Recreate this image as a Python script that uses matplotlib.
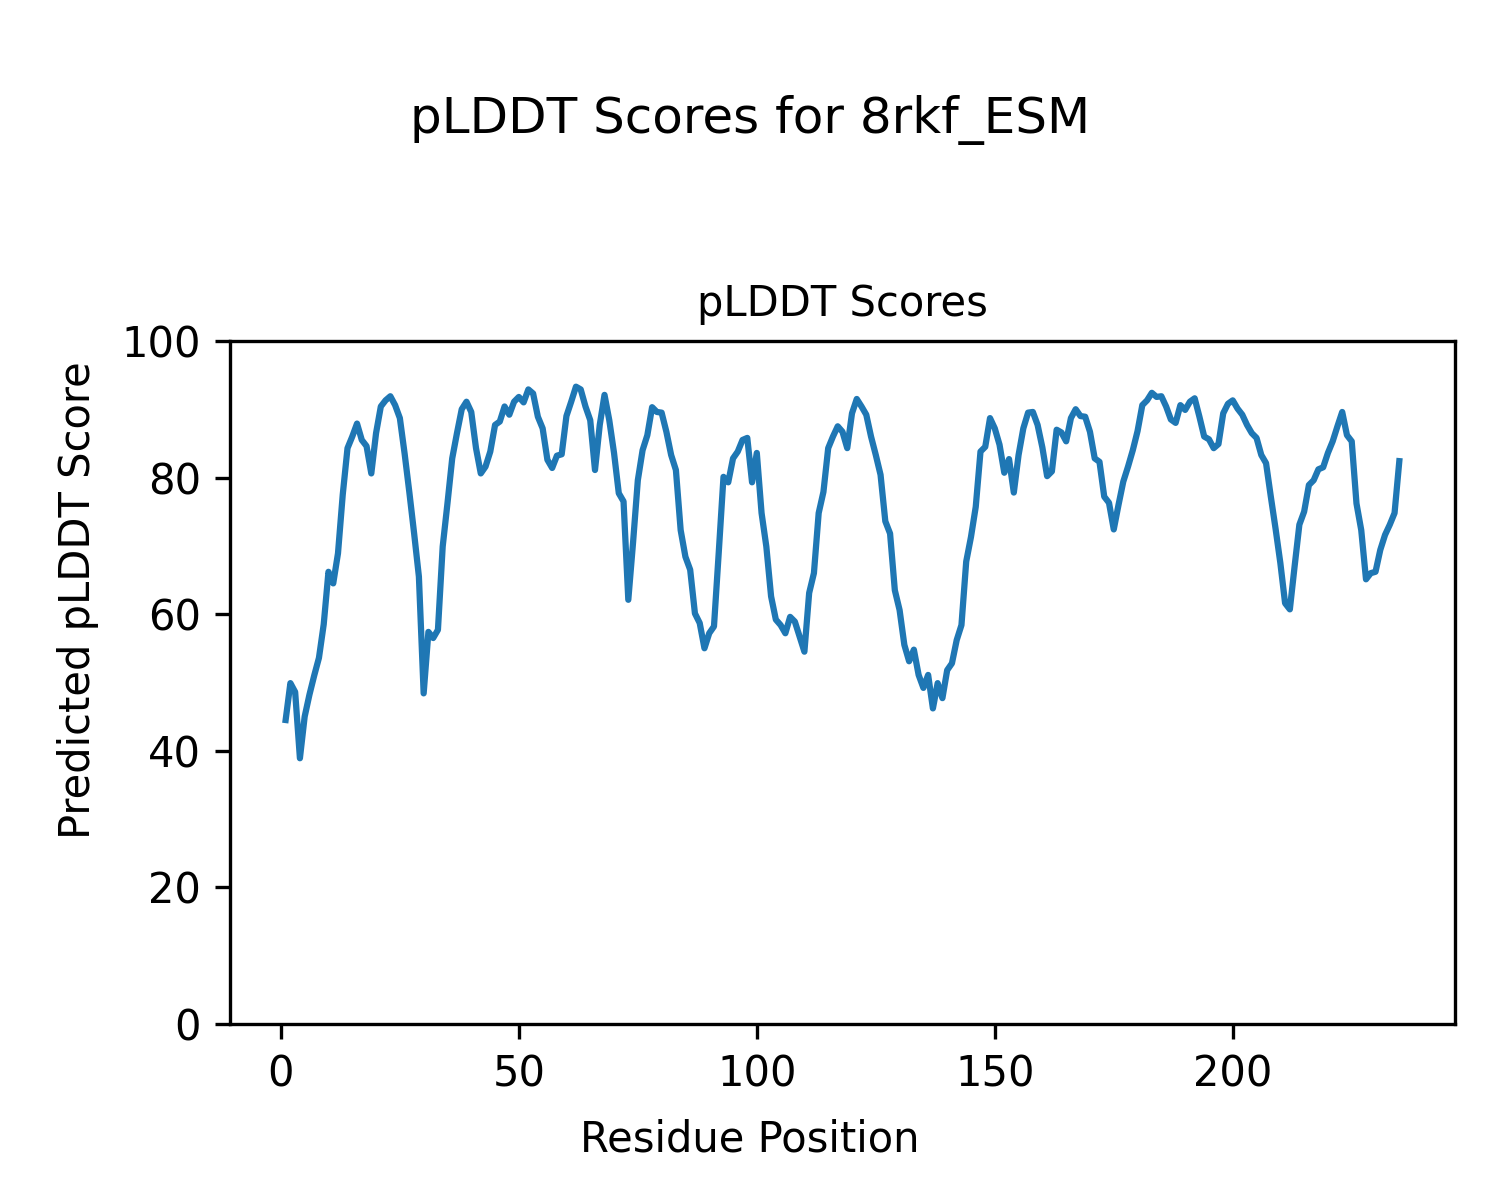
import matplotlib
matplotlib.use("Agg")
import matplotlib.pyplot as plt
import numpy as np

residues = list(range(1, 236))
plddt = [
    44.5, 49.9, 48.6, 38.9, 45.0, 48.2, 51.0, 53.6, 58.5, 66.2,
    64.5, 68.9, 77.5, 84.3, 86.0, 87.9, 85.5, 84.6, 80.6, 86.5,
    90.4, 91.3, 91.9, 90.6, 88.7, 83.5, 77.8, 71.8, 65.5, 48.4,
    57.4, 56.5, 57.7, 69.9, 76.2, 82.8, 86.5, 90.0, 91.1, 89.6,
    84.3, 80.6, 81.6, 83.8, 87.7, 88.2, 90.4, 89.2, 91.1, 91.8,
    91.0, 92.9, 92.3, 88.9, 87.2, 82.6, 81.4, 83.2, 83.4, 89.0,
    91.1, 93.3, 92.9, 90.4, 88.4, 81.1, 87.7, 92.1, 88.4, 83.6,
    77.7, 76.5, 62.1, 70.5, 79.6, 84.0, 86.2, 90.3, 89.6, 89.5,
    86.7, 83.3, 81.1, 72.3, 68.4, 66.5, 60.1, 58.7, 55.0, 57.2,
    58.2, 69.0, 80.1, 79.3, 82.8, 83.8, 85.5, 85.8, 79.3, 83.6,
    74.8, 69.9, 62.6, 59.2, 58.4, 57.2, 59.6, 58.9, 56.7, 54.5,
    63.1, 66.0, 74.8, 77.9, 84.3, 86.0, 87.5, 86.7, 84.3, 89.4,
    91.5, 90.4, 89.2, 86.0, 83.3, 80.4, 73.6, 71.8, 63.5, 60.6,
    55.5, 53.1, 54.8, 51.1, 49.2, 51.1, 46.2, 49.9, 47.7, 51.8,
    52.8, 56.2, 58.4, 67.7, 71.3, 75.7, 83.8, 84.5, 88.7, 87.2,
    84.8, 80.7, 82.7, 77.8, 83.3, 87.2, 89.5, 89.6, 87.7, 84.4,
    80.2, 80.9, 87.0, 86.6, 85.3, 88.7, 90.0, 89.0, 88.9, 86.7,
    82.8, 82.3, 77.2, 76.3, 72.4, 76.0, 79.4, 81.6, 84.0, 86.8,
    90.6, 91.3, 92.4, 91.8, 91.9, 90.4, 88.5, 88.0, 90.6, 89.9,
    91.1, 91.6, 88.9, 86.0, 85.6, 84.3, 84.9, 89.4, 90.8, 91.3,
    90.1, 89.2, 87.7, 86.5, 85.8, 83.3, 82.1, 77.2, 72.5, 67.5,
    61.6, 60.7, 67.0, 73.1, 75.0, 78.9, 79.6, 81.2, 81.5, 83.6,
    85.3, 87.5, 89.6, 86.2, 85.3, 76.2, 72.3, 65.1, 66.0, 66.2,
    69.4, 71.6, 73.1, 74.8, 82.4,
]

fig = plt.figure(figsize=(5, 4), dpi=300)
ax = fig.add_axes([0.1533, 0.1467, 0.8167, 0.5692])
ax.plot(residues, plddt, color="#1f77b4", linewidth=1.5)
ax.set_ylim(0, 100)
ax.set_title("pLDDT Scores", fontsize=10)
fig.suptitle("pLDDT Scores for 8rkf_ESM", fontsize=12, y=0.9, va="center")
fig.text(0.5, 0.050, "Residue Position", ha="center", va="center", fontsize=10)
fig.text(0.052, 0.5, "Predicted pLDDT Score", ha="center", va="center",
         rotation=90, fontsize=10)

fig.savefig("out.png", dpi=300)
